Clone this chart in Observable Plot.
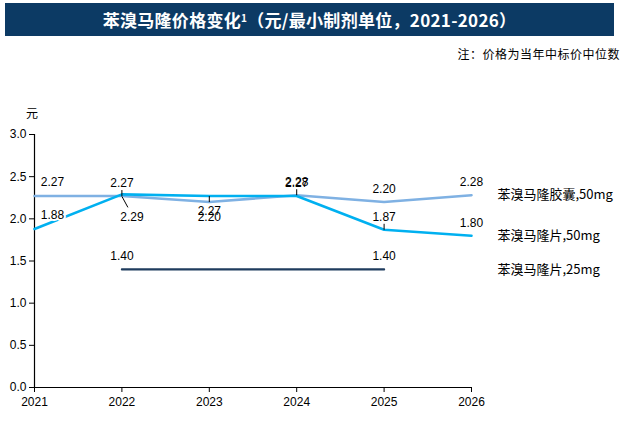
<!DOCTYPE html>
<html>
<head>
<meta charset="utf-8">
<script src="https://cdn.jsdelivr.net/npm/d3@7"></script>
<script src="https://cdn.jsdelivr.net/npm/@observablehq/plot@0.6"></script>
<style>
  body { margin:0; width:626px; height:421px; position:relative; background:#fff; overflow:hidden; }
  #title { position:absolute; left:5px; top:3px; width:609px; height:33px; background:#0c3a64; color:#fff;
           font-family:"Noto Sans CJK SC", sans-serif; font-weight:bold; font-size:17px;
           display:flex; align-items:center; justify-content:center; letter-spacing:0.3px; }
  #title sup { font-size:10px; position:relative; top:-2px; }
  #note { position:absolute; right:6px; top:45px; font-family:"Noto Sans CJK SC", sans-serif; font-size:12px; color:#000; letter-spacing:0.5px; }
  #unit { position:absolute; left:26px; top:104px; font-family:"Noto Sans CJK SC", sans-serif; font-size:12px; color:#000; }
  #chart { position:absolute; left:0; top:100px; }
</style>
</head>
<body>
<div id="title">苯溴马隆价格变化<sup>1</sup>（元/最小制剂单位，2021-2026）</div>
<div id="note">注：价格为当年中标价中位数</div>
<div id="unit">元</div>
<div id="chart"></div>
<script>
const years = [2021, 2022, 2023, 2024, 2025, 2026];
const capsule50 = [2.27, 2.27, 2.20, 2.28, 2.20, 2.28];
const tablet50 = [1.88, 2.29, 2.27, 2.27, 1.87, 1.80];
const tablet25Years = [2022, 2025];
const tablet25 = [1.40, 1.40];
const seriesNames = ["苯溴马隆胶囊,50mg", "苯溴马隆片,50mg", "苯溴马隆片,25mg"];
const yTicks = [0, 0.5, 1.0, 1.5, 2.0, 2.5, 3.0];
// labels placed below the point (others above)
const belowLabels = [[seriesNames[0], 2023], [seriesNames[1], 2023]];
// labels pulled away with a diagonal leader line
const leaderDiag = [[seriesNames[1], 2022]];
// short leader ticks drawn by the chart for some labels
const leaderUp = [[seriesNames[0], 2022], [seriesNames[0], 2024], [seriesNames[1], 2025]];
const leaderDown = [[seriesNames[1], 2023]];

const colors = ["#7fb1e3", "#00b0f0", "#1f3c5e"];

const rows = [];
years.forEach((y, i) => rows.push({series: seriesNames[0], year: y, value: capsule50[i]}));
years.forEach((y, i) => rows.push({series: seriesNames[1], year: y, value: tablet50[i]}));
tablet25Years.forEach((y, i) => rows.push({series: seriesNames[2], year: y, value: tablet25[i]}));

const isIn = (list) => (d) => list.some(([s, y]) => s === d.series && y === d.year);
const firstYear = rows.filter(d => d.year === years[0]);
const below = rows.filter(isIn(belowLabels));
const diag = rows.filter(isIn(leaderDiag));
const above = rows.filter(d => !isIn(belowLabels)(d) && !isIn(leaderDiag)(d) && d.year !== years[0]);

const legendRows = seriesNames.map(s => {
  const r = rows.filter(d => d.series === s);
  return {series: s, value: r[r.length - 1].value};
});

const tickUpSym = {draw(ctx) { ctx.moveTo(0, 0); ctx.lineTo(0, -6); }};
const tickDownSym = {draw(ctx) { ctx.moveTo(0, 0); ctx.lineTo(0, 6); }};
const diagSym = {draw(ctx) { ctx.moveTo(0, 2); ctx.lineTo(6, 13); }};
const fmt = d => d.value.toFixed(2);

const chart = Plot.plot({
  width: 626,
  height: 321,
  marginTop: 34,
  marginBottom: 34,
  marginLeft: 34,
  marginRight: 155,
  style: {fontFamily: "'Liberation Sans', Arial, sans-serif", fontSize: "12px", color: "#000", background: "transparent"},
  x: {domain: [years[0], years[years.length - 1]], label: null},
  y: {domain: [0, 3], label: null},
  color: {domain: seriesNames, range: colors},
  marks: [
    Plot.axisX({ticks: years, tickFormat: "d", tickSize: 5, tickPadding: 5, label: null, fontSize: 12}),
    Plot.axisY({ticks: yTicks, tickFormat: ".1f", tickSize: 5, tickPadding: 3, label: null, fontSize: 12}),
    Plot.ruleY([0], {stroke: "#000", strokeWidth: 1.2}),
    Plot.ruleX([years[0]], {y1: 0, y2: 3, stroke: "#000", strokeWidth: 1.2}),
    Plot.line(rows, {x: "year", y: "value", z: "series", stroke: "series",
      strokeWidth: d => d.series === seriesNames[2] ? 2.2 : 2.6}),
    Plot.dot(rows.filter(isIn(leaderUp)), {x: "year", y: "value", symbol: tickUpSym, stroke: "#000", fill: "none", strokeWidth: 1, r: 3}),
    Plot.dot(rows.filter(isIn(leaderDown)), {x: "year", y: "value", symbol: tickDownSym, stroke: "#000", fill: "none", strokeWidth: 1, r: 3}),
    Plot.dot(diag, {x: "year", y: "value", symbol: diagSym, stroke: "#000", fill: "none", strokeWidth: 1, r: 3}),
    Plot.text(above, {x: "year", y: "value", text: fmt, dy: -13, fill: "#000", fontSize: 12}),
    Plot.text(below, {x: "year", y: "value", text: fmt, dy: 15, fill: "#000", fontSize: 12}),
    Plot.text(diag, {x: "year", y: "value", text: fmt, dy: 23, dx: 10, fill: "#000", fontSize: 12}),
    Plot.text(firstYear, {x: "year", y: "value", text: fmt, dy: -14, dx: 18, fill: "#000",
      stroke: "#fff", strokeWidth: 4, paintOrder: "stroke", fontSize: 12}),
    Plot.text(legendRows, {x: () => years[years.length - 1], y: "value", text: "series", textAnchor: "start", dx: 26,
      fill: "#000", fontSize: 13, fontFamily: "'Noto Sans CJK SC', sans-serif"})
  ]
});
document.getElementById("chart").appendChild(chart);
</script>
</body>
</html>
